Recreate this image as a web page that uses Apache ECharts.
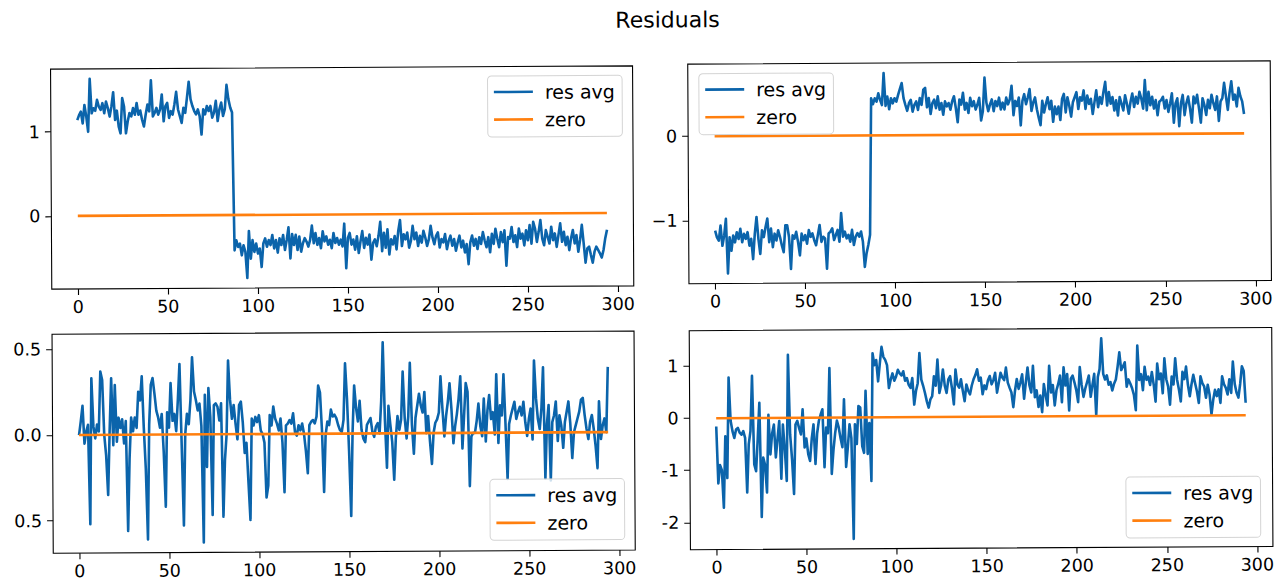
<!DOCTYPE html>
<html>
<head>
<meta charset="utf-8">
<script src="https://cdn.jsdelivr.net/npm/echarts@6/dist/echarts.min.js"></script>
<style>
  html, body { margin: 0; padding: 0; background: #fff; overflow: hidden; }
  #chart { width: 1282px; height: 583px; background: #fff;
           transform: rotate(-0.32deg); transform-origin: 641px 291.5px; }
</style>
</head>
<body>
<div id="chart"></div>
<script>
// ---- data ----
const figureTitle = 'Residuals';
const seriesNames = ['res avg', 'zero'];
const xTicks = [0, 50, 100, 150, 200, 250, 300];
const zeroX = [0, 294];
const zeroY = [0, 0];

const resTopLeft = [
  1.14, 1.20, 1.24, 1.10, 1.32, 1.18, 1.00, 1.63, 1.22, 1.28,
  1.25, 1.38, 1.30, 1.26, 1.34, 1.22, 1.36, 1.28, 1.18, 1.30,
  1.47, 1.14, 1.25, 1.06, 0.98, 1.40, 1.30, 0.98, 1.12, 1.22,
  1.18, 1.28, 1.20, 1.34, 1.20, 1.25, 1.14, 1.06, 1.20, 1.32,
  1.24, 1.61, 1.18, 1.22, 1.28, 1.20, 1.26, 1.44, 1.12, 1.30,
  1.34, 1.16, 1.24, 1.20, 1.32, 1.47, 1.26, 1.18, 1.10, 1.28,
  1.22, 1.40, 1.59, 1.38, 1.30, 1.24, 1.20, 1.26, 1.18, 0.96,
  1.26, 1.20, 1.30, 1.24, 1.30, 1.16, 1.22, 1.36, 1.12, 1.26,
  1.34, 1.18, 1.26, 1.55, 1.38, 1.28, 1.22, -0.42, -0.30, -0.38,
  -0.34, -0.48, -0.36, -0.44, -0.75, -0.19, -0.52, -0.30, -0.44, -0.34,
  -0.46, -0.40, -0.62, -0.34, -0.28, -0.38, -0.30, -0.36, -0.24, -0.40,
  -0.30, -0.45, -0.28, -0.36, -0.24, -0.42, -0.30, -0.15, -0.52, -0.23,
  -0.36, -0.24, -0.42, -0.26, -0.44, -0.34, -0.28, -0.32, -0.38, -0.30,
  -0.13, -0.34, -0.22, -0.36, -0.28, -0.40, -0.20, -0.32, -0.26, -0.36,
  -0.30, -0.40, -0.22, -0.34, -0.28, -0.36, -0.30, -0.38, -0.11, -0.64,
  -0.28, -0.22, -0.36, -0.30, -0.42, -0.26, -0.46, -0.32, -0.20, -0.40,
  -0.28, -0.36, -0.24, -0.54, -0.34, -0.30, -0.38, -0.26, -0.09, -0.44,
  -0.22, -0.40, -0.18, -0.48, -0.30, -0.36, -0.26, -0.42, -0.20, -0.07,
  -0.38, -0.24, -0.30, -0.22, -0.40, -0.32, -0.14, -0.30, -0.22, -0.38,
  -0.26, -0.34, -0.20, -0.28, -0.38, -0.30, -0.14, -0.28, -0.36, -0.26,
  -0.22, -0.40, -0.30, -0.34, -0.24, -0.42, -0.32, -0.26, -0.38, -0.30,
  -0.44, -0.34, -0.26, -0.40, -0.32, -0.46, -0.36, -0.60, -0.34, -0.26,
  -0.38, -0.30, -0.42, -0.28, -0.36, -0.22, -0.32, -0.40, -0.28, -0.46,
  -0.24, -0.36, -0.18, -0.30, -0.40, -0.22, -0.34, -0.20, -0.62, -0.28,
  -0.30, -0.16, -0.34, -0.26, -0.40, -0.18, -0.30, -0.24, -0.38, -0.20,
  -0.32, -0.14, -0.36, -0.10, -0.18, -0.34, -0.22, -0.08, -0.30, -0.38,
  -0.20, -0.28, -0.36, -0.16, -0.32, -0.24, -0.40, -0.26, -0.12, -0.34,
  -0.22, -0.38, -0.28, -0.44, -0.30, -0.20, -0.36, -0.26, -0.46, -0.32,
  -0.14, -0.36, -0.59, -0.42, -0.40, -0.50, -0.59, -0.46, -0.40, -0.44,
  -0.48, -0.53, -0.44, -0.30, -0.20
];

const resTopRight = [
  -1.12, -1.20, -1.24, -1.06, -1.30, -1.18, -0.98, -1.63, -1.20, -1.36,
  -1.18, -1.26, -1.14, -1.22, -1.10, -1.26, -1.16, -1.22, -1.14, -1.30,
  -1.22, -1.46, -1.16, -0.96, -1.22, -1.40, -1.12, -1.20, -1.08, -0.98,
  -1.26, -1.10, -1.32, -1.16, -1.24, -1.12, -1.20, -1.30, -1.38, -1.06,
  -1.06, -1.20, -1.58, -1.18, -1.22, -1.14, -1.26, -1.42, -1.16, -1.24,
  -1.18, -1.28, -1.12, -1.20, -1.16, -1.24, -1.30, -1.18, -1.06, -1.26,
  -1.20, -1.22, -1.58, -1.16, -1.14, -1.10, -1.24, -1.18, -1.12, -1.26,
  -0.92, -1.20, -1.14, -1.22, -1.18, -1.26, -1.12, -1.30, -1.20, -1.16,
  -1.20, -1.14, -1.26, -1.56, -1.40, -1.30, -1.18, 0.44, 0.37, 0.44,
  0.40, 0.50, 0.42, 0.36, 0.74, 0.35, 0.46, 0.31, 0.44, 0.38,
  0.44, 0.40, 0.48, 0.55, 0.62, 0.44, 0.36, 0.29, 0.38, 0.42,
  0.28, 0.36, 0.40, 0.30, 0.44, 0.36, 0.54, 0.56, 0.33, 0.44,
  0.25, 0.38, 0.42, 0.32, 0.46, 0.30, 0.38, 0.24, 0.40, 0.34,
  0.38, 0.30, 0.40, 0.46, 0.32, 0.15, 0.42, 0.36, 0.50, 0.30,
  0.38, 0.26, 0.44, 0.34, 0.40, 0.30, 0.36, 0.44, 0.17, 0.28,
  0.68, 0.38, 0.28, 0.36, 0.42, 0.28, 0.40, 0.34, 0.44, 0.30,
  0.38, 0.30, 0.44, 0.36, 0.42, 0.58, 0.23, 0.40, 0.34, 0.44,
  0.11, 0.40, 0.48, 0.36, 0.44, 0.54, 0.28, 0.38, 0.44, 0.30,
  0.20, 0.11, 0.40, 0.26, 0.36, 0.44, 0.30, 0.40, 0.15, 0.33,
  0.24, 0.33, 0.17, 0.42, 0.48, 0.26, 0.44, 0.34, 0.21, 0.38,
  0.44, 0.50, 0.30, 0.44, 0.40, 0.52, 0.30, 0.46, 0.36, 0.42,
  0.24, 0.38, 0.52, 0.32, 0.44, 0.36, 0.50, 0.62, 0.34, 0.50,
  0.36, 0.44, 0.28, 0.40, 0.22, 0.44, 0.36, 0.28, 0.46, 0.36,
  0.24, 0.38, 0.48, 0.32, 0.44, 0.36, 0.50, 0.42, 0.30, 0.64,
  0.28, 0.50, 0.34, 0.44, 0.30, 0.40, 0.22, 0.38, 0.40, 0.44,
  0.30, 0.40, 0.26, 0.36, 0.48, 0.13, 0.36, 0.42, 0.09, 0.36,
  0.46, 0.22, 0.36, 0.44, 0.30, 0.13, 0.44, 0.36, 0.46, 0.30,
  0.13, 0.42, 0.34, 0.22, 0.40, 0.30, 0.46, 0.36, 0.28, 0.44,
  0.15, 0.38, 0.42, 0.60, 0.44, 0.28, 0.48, 0.62, 0.40, 0.46,
  0.32, 0.54, 0.44, 0.38, 0.23
];

const resBottomLeft = [
  0.00, 0.08, 0.17, -0.05, 0.02, 0.06, -0.52, 0.33, 0.05, -0.02,
  0.06, 0.02, 0.37, 0.32, 0.00, -0.12, -0.35, 0.02, 0.33, -0.06,
  0.29, -0.04, 0.10, 0.04, 0.09, -0.05, 0.08, -0.56, -0.14, 0.10,
  0.02, 0.10, 0.04, 0.25, 0.20, 0.34, 0.04, -0.20, -0.61, 0.06,
  0.29, 0.33, 0.24, 0.14, 0.10, 0.04, 0.12, -0.10, -0.42, 0.13,
  0.04, 0.30, 0.08, 0.12, 0.02, 0.20, 0.41, -0.06, -0.53, 0.00,
  0.12, 0.06, 0.20, 0.45, 0.25, 0.20, 0.14, 0.18, 0.05, -0.63,
  0.23, -0.19, 0.27, 0.10, -0.47, 0.17, 0.18, 0.16, 0.08, 0.18,
  -0.48, -0.15, 0.00, 0.43, 0.20, 0.09, 0.17, 0.06, -0.03, 0.17,
  0.19, 0.07, -0.11, -0.05, -0.28, -0.50, 0.09, 0.05, 0.10, 0.07,
  0.11, 0.02, 0.00, -0.05, -0.37, -0.30, 0.11, 0.05, 0.16, 0.09,
  0.06, 0.02, 0.09, -0.05, -0.34, 0.05, 0.06, 0.08, 0.06, 0.12,
  0.01, -0.01, 0.05, 0.02, 0.06, 0.00, -0.10, -0.23, 0.05, 0.07,
  0.08, 0.06, 0.10, 0.28, 0.24, 0.02, -0.34, -0.01, 0.07, 0.05,
  0.14, 0.10, 0.11, 0.09, 0.05, 0.02, 0.01, 0.08, 0.41, 0.20,
  -0.10, -0.48, 0.01, 0.28, 0.15, 0.07, 0.19, 0.02, -0.03, -0.05,
  0.05, 0.07, 0.09, 0.01, -0.02, 0.04, 0.06, 0.00, 0.19, 0.53,
  0.08, -0.20, 0.16, 0.05, -0.05, -0.27, -0.03, 0.10, 0.02, 0.08,
  0.36, 0.09, -0.03, 0.10, 0.41, 0.05, -0.12, 0.09, 0.16, 0.23,
  0.16, 0.12, 0.24, 0.00, 0.10, -0.05, -0.18, 0.00, 0.06, 0.08,
  0.12, 0.33, 0.14, -0.02, 0.10, 0.18, 0.29, 0.14, -0.06, 0.04,
  0.11, 0.20, 0.33, -0.09, 0.10, 0.29, 0.24, -0.31, -0.02, 0.00,
  0.00, 0.07, 0.17, 0.04, -0.02, 0.20, -0.05, 0.13, 0.22, 0.08,
  0.12, -0.01, 0.34, -0.06, 0.16, 0.10, 0.34, 0.05, -0.27, 0.05,
  0.10, 0.14, 0.18, 0.08, 0.12, 0.15, 0.10, 0.18, 0.06, -0.02,
  0.08, 0.14, -0.04, 0.42, 0.20, 0.08, 0.02, 0.14, 0.38, -0.27,
  0.05, 0.16, -0.28, 0.06, 0.10, 0.18, -0.05, 0.10, 0.04, -0.09,
  0.06, 0.12, 0.18, 0.05, -0.15, 0.00, 0.04, 0.08, 0.12, 0.19,
  0.20, 0.10, 0.02, -0.04, 0.06, 0.10, 0.02, -0.08, -0.21, 0.18,
  -0.04, 0.04, 0.08, 0.00, 0.38
];

const resBottomRight = [
  -0.16, -1.25, -0.90, -1.00, -1.72, -0.35, -1.15, 0.78, -0.05, -0.25,
  -0.38, -0.22, -0.19, -0.28, -0.32, -0.25, -0.38, -1.43, -0.50, -0.25,
  0.81, -0.89, -1.02, -0.40, 0.29, -1.90, -0.76, -0.90, -1.43, 0.06,
  -0.70, -0.30, -0.13, -0.76, -0.40, -0.06, -1.17, -0.13, -0.60, -1.21,
  1.21, -0.32, -0.80, -1.46, -0.13, -0.06, -0.20, -0.32, 0.16, -0.57,
  -0.40, -0.70, -0.83, -0.40, -0.13, -0.89, -0.30, -0.06, 0.06, 0.16,
  -0.95, -0.19, -0.30, 0.95, -1.08, -0.63, -0.30, -0.06, -0.19, -0.40,
  -0.57, 0.35, -0.95, -0.57, -0.13, -0.40, -2.33, -0.13, -0.51, 0.22,
  0.19, -0.55, -0.68, 0.51, -0.70, -0.11, -1.22, 1.23, 1.00, 1.10,
  0.69, 1.03, 1.35, 1.16, 1.10, 1.00, 0.56, 0.72, 0.84, 0.70,
  0.78, 0.91, 0.84, 0.80, 0.88, 0.70, 0.75, 0.62, 0.56, 0.75,
  0.24, 0.50, 0.65, 1.23, 0.72, 0.60, 0.46, 0.30, 0.18, 0.34,
  0.40, 0.78, 0.60, 1.10, 0.46, 0.62, 0.91, 0.60, 0.46, 0.72,
  0.78, 0.55, 0.24, 0.91, 0.62, 0.56, 0.72, 0.50, 0.30, 0.62,
  0.50, 0.43, 0.60, 0.72, 0.80, 0.91, 0.69, 0.75, 0.43, 0.60,
  0.53, 0.70, 0.78, 0.62, 0.70, 0.84, 0.46, 0.65, 0.84, 0.75,
  0.70, 0.94, 0.65, 0.55, 0.46, 0.18, 0.50, 0.72, 0.53, 0.65,
  0.81, 0.34, 0.65, 0.94, 0.60, 0.46, 0.97, 0.37, 0.50, 0.18,
  0.40, 0.08, 0.62, 0.40, 0.21, 0.97, 0.46, 0.60, 0.21, 0.50,
  0.62, 0.78, 0.27, 0.94, 0.59, 0.81, 0.11, 0.72, 0.78, 0.65,
  0.50, 0.27, 0.94, 0.60, 0.37, 0.53, 0.65, 0.78, 0.37, 0.60,
  0.81, 0.02, 0.75, 0.90, 1.49, 0.81, 0.70, 0.78, 0.60, 0.65,
  0.49, 0.62, 0.70, 0.94, 1.22, 0.88, 0.95, 1.03, 0.56, 0.70,
  0.62, 0.53, 0.40, 0.11, 1.35, 0.69, 0.80, 0.49, 0.94, 0.69,
  0.75, 0.59, 0.84, 0.60, 0.27, 1.00, 0.70, 0.81, 0.43, 1.10,
  0.70, 0.56, 0.21, 0.75, 0.60, 1.10, 0.69, 0.50, 0.27, 0.84,
  0.70, 0.94, 0.59, 0.37, 0.60, 0.78, 0.62, 0.46, 0.24, 0.75,
  0.62, 0.56, 0.34, 0.59, 0.40, 0.02, 0.30, 0.49, 0.37, 0.50,
  0.24, 0.75, 0.60, 0.53, 0.40, 0.69, 0.43, 1.03, 0.60, 0.43,
  0.34, 0.60, 0.94, 0.85, 0.24
];

// y tick values and the label text printed beside each
const yTicksTopLeft = [0, 1];
const yLabelsTopLeft = ['0', '1'];
const yTicksTopRight = [-1, 0];
const yLabelsTopRight = ['\u22121', '0'];
const yTicksBottomLeft = [-0.5, 0, 0.5];
const yLabelsBottomLeft = ['0.5', '0.0', '0.5'];
const yTicksBottomRight = [-2, -1, 0, 1];
const yLabelsBottomRight = ['-2', '-1', '0', '1'];

// ---- layout & style ----
const FONT = 'DejaVu Sans';
const BLUE = '#0b64ab';
const ORANGE = '#ff7f0e';
const TICK_FONT = 17.5;
const LEGEND_FONT = 19;

const panels = [
  { values: resTopLeft, ticks: yTicksTopLeft, labels: yLabelsTopLeft,
    grid: { left: 51.8, top: 65.8, width: 582, height: 220 },
    legend: { left: 488.7, top: 75.2 } },
  { values: resTopRight, ticks: yTicksTopRight, labels: yLabelsTopRight,
    grid: { left: 689, top: 64.4, width: 582.5, height: 219.6 },
    legend: { left: 700, top: 74 } },
  { values: resBottomLeft, ticks: yTicksBottomLeft, labels: yLabelsBottomLeft,
    grid: { left: 51.8, top: 331, width: 582, height: 219 },
    legend: { left: 488.8, top: 478.5 } },
  { values: resBottomRight, ticks: yTicksBottomRight, labels: yLabelsBottomRight,
    grid: { left: 689, top: 331, width: 582.5, height: 219 },
    legend: { left: 1124.8, top: 479.8 } }
];

// matplotlib-style autoscale: 5% margin on each side of the data span
function paddedRange(lo, hi) {
  const m = (hi - lo) * 0.05;
  return [lo - m, hi + m];
}

const grids = [], xAxes = [], yAxes = [], series = [], legends = [];

panels.forEach((p, i) => {
  const xs = p.values.map((_, k) => k);
  const [xMin, xMax] = paddedRange(Math.min(...xs, ...zeroX), Math.max(...xs, ...zeroX));
  const [yMin, yMax] = paddedRange(Math.min(...p.values, ...zeroY), Math.max(...p.values, ...zeroY));

  grids.push(Object.assign({
    show: true, borderColor: '#000', borderWidth: 1.1, backgroundColor: 'transparent',
    containLabel: false
  }, p.grid));

  xAxes.push({
    type: 'value', gridIndex: i, min: xMin, max: xMax, position: 'bottom',
    axisLine: { show: false, onZero: false },
    splitLine: { show: false },
    axisTick: { show: true, inside: false, length: 6, customValues: xTicks,
                lineStyle: { color: '#000', width: 1.1 } },
    axisLabel: { customValues: xTicks, margin: 9, fontFamily: FONT, fontSize: TICK_FONT,
                 color: '#000', formatter: v => String(v) }
  });

  yAxes.push({
    type: 'value', gridIndex: i, min: yMin, max: yMax, position: 'left',
    axisLine: { show: false, onZero: false },
    splitLine: { show: false },
    axisTick: { show: true, inside: false, length: 6, customValues: p.ticks,
                lineStyle: { color: '#000', width: 1.1 } },
    axisLabel: { customValues: p.ticks, margin: 11, fontFamily: FONT, fontSize: TICK_FONT,
                 color: '#000',
                 formatter: v => {
                   let best = 0;
                   p.ticks.forEach((t, k) => { if (Math.abs(t - v) < Math.abs(p.ticks[best] - v)) best = k; });
                   return p.labels[best];
                 } }
  });

  series.push({
    name: seriesNames[0], type: 'line', xAxisIndex: i, yAxisIndex: i,
    data: p.values.map((v, k) => [xs[k], v]),
    showSymbol: false, symbol: 'none', smooth: false,
    lineStyle: { color: BLUE, width: 2.6, join: 'round' },
    itemStyle: { color: BLUE },
    emphasis: { disabled: true }, silent: true, z: 2
  });
  series.push({
    name: seriesNames[1], type: 'line', xAxisIndex: i, yAxisIndex: i,
    data: zeroX.map((x, k) => [x, zeroY[k]]),
    showSymbol: false, symbol: 'none',
    lineStyle: { color: ORANGE, width: 2.6 },
    itemStyle: { color: ORANGE },
    emphasis: { disabled: true }, silent: true, z: 3
  });

  legends.push({
    data: seriesNames, orient: 'vertical', selectedMode: false,
    left: p.legend.left, top: p.legend.top,
    icon: 'rect', itemWidth: 39, itemHeight: 2.6, itemGap: 7.6,
    padding: [6, 7.3, 7.4, 6.3],
    backgroundColor: 'rgba(255,255,255,0.8)',
    borderColor: '#d4d4d4', borderWidth: 1, borderRadius: 4,
    textStyle: { fontFamily: FONT, fontSize: LEGEND_FONT, color: '#000', lineHeight: 20, padding: [0, 0, 0, 7] },
    z: 10
  });
});

const chart = echarts.init(document.getElementById('chart'), null, { renderer: 'svg' });
chart.setOption({
  animation: false,
  backgroundColor: '#fff',
  textStyle: { fontFamily: FONT },
  title: {
    text: figureTitle, left: 664, top: 4, textAlign: 'center',
    textStyle: { fontFamily: FONT, fontSize: 22, fontWeight: 'normal', color: '#000' }
  },
  grid: grids,
  xAxis: xAxes,
  yAxis: yAxes,
  legend: legends,
  series: series
});
</script>
</body>
</html>
